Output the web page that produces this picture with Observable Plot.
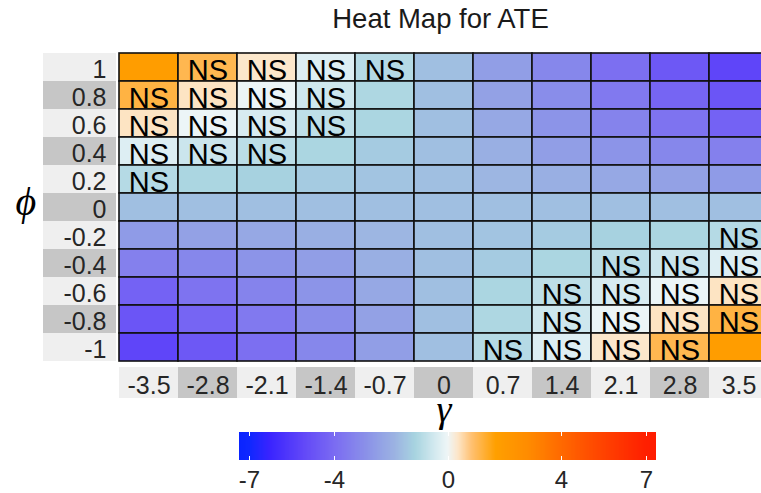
<!DOCTYPE html>
<html>
<head>
<meta charset="utf-8">
<script src="https://cdn.jsdelivr.net/npm/d3@7"></script>
<script src="https://cdn.jsdelivr.net/npm/@observablehq/plot@0.6"></script>
<style>
  html, body { margin: 0; padding: 0; background: #fff; overflow: hidden; }
  #chart svg { display: block; }
</style>
</head>
<body>
<div id="chart"></div>
<script>
// ---- data ----
const gammaLabels = ["-3.5", "-2.8", "-2.1", "-1.4", "-0.7", "0", "0.7", "1.4", "2.1", "2.8", "3.5"];
const phiLabels = ["1", "0.8", "0.6", "0.4", "0.2", "0", "-0.2", "-0.4", "-0.6", "-0.8", "-1"];

// ATE value per row (phi, top to bottom), per column (gamma, left to right)
const ateRows = [
  [ 1.9,  1.1,  0.35, -0.3, -0.95, -1.6, -2.5, -3.2, -3.9, -4.6, -5.2],
  [ 1.2,  0.4, -0.05, -0.55, -1.05, -1.6, -2.4, -3.0, -3.6, -4.2, -4.7],
  [ 0.4, -0.05, -0.4, -0.8, -1.1, -1.6, -2.2, -2.8, -3.3, -3.8, -4.3],
  [-0.3, -0.6, -0.85, -1.1, -1.35, -1.6, -2.0, -2.5, -2.8, -3.2, -3.4],
  [-0.95, -1.1, -1.2, -1.35, -1.5, -1.6, -1.8, -2.0, -2.2, -2.4, -2.6],
  [-1.6, -1.6, -1.6, -1.6, -1.6, -1.6, -1.6, -1.6, -1.6, -1.6, -1.6],
  [-2.6, -2.4, -2.2, -2.0, -1.8, -1.6, -1.5, -1.35, -1.2, -1.1, -0.95],
  [-3.4, -3.2, -2.8, -2.5, -2.0, -1.6, -1.35, -1.1, -0.85, -0.6, -0.3],
  [-4.3, -3.8, -3.3, -2.8, -2.2, -1.6, -1.1, -0.8, -0.4, -0.05, 0.4],
  [-4.7, -4.2, -3.6, -3.0, -2.4, -1.6, -1.05, -0.55, -0.05, 0.4, 1.2],
  [-5.2, -4.6, -3.9, -3.2, -2.5, -1.6, -0.95, -0.3, 0.35, 1.1, 1.9]
];

// 1 = not significant ("NS")
const nsRows = [
  [0, 1, 1, 1, 1, 0, 0, 0, 0, 0, 0],
  [1, 1, 1, 1, 0, 0, 0, 0, 0, 0, 0],
  [1, 1, 1, 1, 0, 0, 0, 0, 0, 0, 0],
  [1, 1, 1, 0, 0, 0, 0, 0, 0, 0, 0],
  [1, 0, 0, 0, 0, 0, 0, 0, 0, 0, 0],
  [0, 0, 0, 0, 0, 0, 0, 0, 0, 0, 0],
  [0, 0, 0, 0, 0, 0, 0, 0, 0, 0, 1],
  [0, 0, 0, 0, 0, 0, 0, 0, 1, 1, 1],
  [0, 0, 0, 0, 0, 0, 0, 1, 1, 1, 1],
  [0, 0, 0, 0, 0, 0, 0, 1, 1, 1, 1],
  [0, 0, 0, 0, 0, 0, 1, 1, 1, 1, 0]
];

const colorbarTicks = [-7, -4, 0, 4, 7];
const colorDomain = [-7.35, 7.35];

// colormap stops
const cmapStops  = [-7.35, -7, -6.3, -5.1, -4, -2.8, -1.85, -1.15, -0.45, 0, 0.37, 0.86, 1.7, 2.85, 4, 5.2, 7, 7.35];
const cmapColors = ["#0a24ff", "#1028ff", "#3a24ff", "#6248f8", "#7b6cf2", "#8c94e8", "#9cb4e2", "#a8d4e0",
                    "#d4eaf0", "#eff6f8", "#fde6c8", "#ffc070", "#ffa000", "#ff8c00", "#ff6a00", "#ff4a00", "#ff2000", "#ff1c00"];

// ---- build table ----
const cells = [];
phiLabels.forEach((p, i) => gammaLabels.forEach((g, j) => {
  cells.push({phi: p, gamma: g, value: ateRows[i][j], ns: nsRows[i][j] === 1});
}));

const cmap = d3.scaleLinear().domain(cmapStops).range(cmapColors).interpolate(d3.interpolateRgb).clamp(true);
const ramp = t => cmap(colorDomain[0] + t * (colorDomain[1] - colorDomain[0]));

const font = "'Liberation Sans', Arial, Helvetica, sans-serif";
const serif = "'Liberation Serif', 'DejaVu Serif', serif";
const textColor = "#262626";
const lightBox = "#efefef";
const darkBox = "#c6c6c6";

// label boxes (alternating grey backgrounds behind tick labels)
function labelBoxes(index, scales, values, dimensions) {
  const g = d3.create("svg:g");
  const bwY = scales.y.bandwidth();
  phiLabels.forEach((p, i) => {
    g.append("rect")
      .attr("x", 43).attr("width", dimensions.marginLeft - 43)
      .attr("y", scales.y(p)).attr("height", bwY)
      .attr("fill", i % 2 === 0 ? lightBox : darkBox);
  });
  const bwX = scales.x.bandwidth();
  const top = dimensions.height - dimensions.marginBottom + 2;
  gammaLabels.forEach((gm, j) => {
    g.append("rect")
      .attr("x", scales.x(gm)).attr("width", bwX)
      .attr("y", top).attr("height", 31)
      .attr("fill", j % 2 === 0 ? lightBox : darkBox);
  });
  return g.node();
}

const chart = Plot.plot({
  width: 761,
  height: 432,
  marginTop: 49,
  marginBottom: 67,
  marginLeft: 116,
  marginRight: 0,
  style: {background: "white", overflow: "hidden"},
  x: {domain: gammaLabels, range: [116, 770.2], padding: 0, axis: null},
  y: {domain: phiLabels, padding: 0, axis: null},
  color: {type: "linear", domain: colorDomain, interpolate: ramp},
  marks: [
    labelBoxes,
    Plot.cell(cells, {x: "gamma", y: "phi", fill: "value", stroke: "#111", strokeWidth: 1.6, inset: 0}),
    Plot.text(cells.filter(d => d.ns), {x: "gamma", y: "phi", text: () => "NS", fontSize: 29, fontFamily: font, fill: "#000", dy: 3}),
    Plot.text(phiLabels, {y: d => d, text: d => d, frameAnchor: "left", textAnchor: "end", dx: -10, dy: 2, fontSize: 25, fontFamily: font, fill: textColor}),
    Plot.text(gammaLabels, {x: d => d, text: d => d, frameAnchor: "bottom", lineAnchor: "bottom", dy: 28, fontSize: 25, fontFamily: font, fill: textColor}),
    Plot.text(["Heat Map for ATE"], {frameAnchor: "top", lineAnchor: "bottom", dy: -22, dx: 1.5, fontSize: 27.5, fontFamily: font, fill: "#1a1a1a"}),
    Plot.text(["ϕ"], {frameAnchor: "left", lineAnchor: "bottom", dx: -101, dy: 7, fontSize: 40, fontStyle: "italic", fontFamily: serif, fill: "#000"}),
    Plot.text(["γ"], {frameAnchor: "bottom", lineAnchor: "bottom", dx: 5, dy: 56, fontSize: 38, fontStyle: "italic", fontFamily: serif, fill: "#000"})
  ]
});

const legend = Plot.legend({
  color: {type: "linear", domain: colorDomain, interpolate: ramp},
  width: 761,
  height: 61,
  marginTop: 0,
  marginBottom: 33,
  marginLeft: 239,
  marginRight: 105,
  ticks: colorbarTicks,
  tickSize: 9,
  tickFormat: d => String(d),
  label: null,
  style: {background: "white"}
});

const lg = d3.select(legend);
lg.selectAll("g").attr("font-size", null).attr("font-family", null);
lg.selectAll("text")
  .attr("font-size", 24)
  .style("font-size", "24px", "important")
  .style("font-family", font, "important")
  .style("fill", textColor)
  .attr("y", 11);
lg.selectAll("line")
  .style("stroke", "white")
  .style("stroke-width", "1")
  .style("stroke-dasharray", "4 20 4 100");

document.getElementById("chart").append(chart, legend);
</script>
</body>
</html>
